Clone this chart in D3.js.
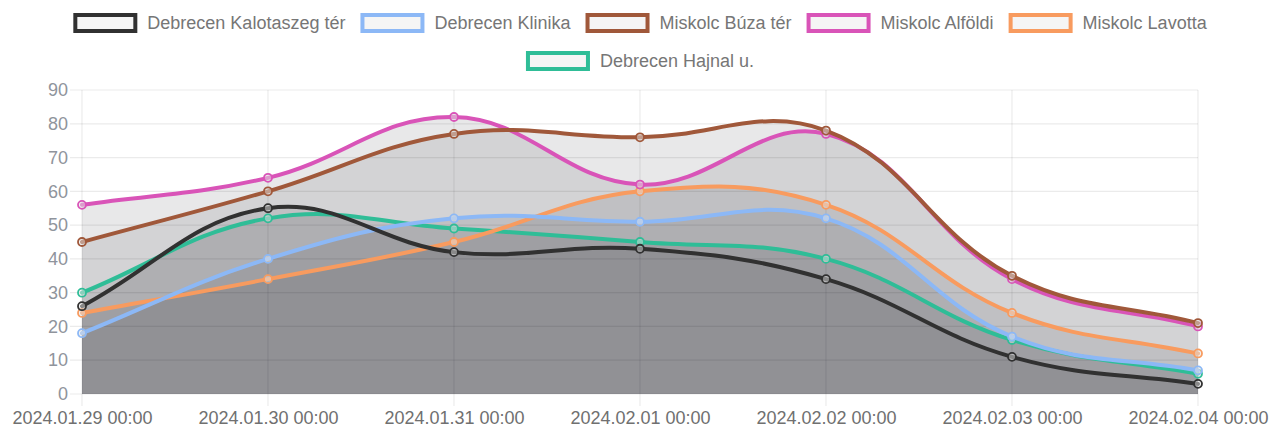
<!DOCTYPE html>
<html>
<head>
<meta charset="utf-8">
<script src="https://cdn.jsdelivr.net/npm/d3@7"></script>
<style>
  html, body { margin: 0; padding: 0; background: #ffffff; }
  svg { display: block; }
  text { font-family: "Liberation Sans", Arial, Helvetica, sans-serif; }
</style>
</head>
<body>
<svg id="chart" width="1282" height="433"></svg>
<script>
// ---------- data ----------
const labels = ["2024.01.29 00:00", "2024.01.30 00:00", "2024.01.31 00:00", "2024.02.01 00:00",
                "2024.02.02 00:00", "2024.02.03 00:00", "2024.02.04 00:00"];
const seriesNames = ["Debrecen Kalotaszeg tér", "Debrecen Klinika", "Miskolc Búza tér",
                     "Miskolc Alföldi", "Miskolc Lavotta", "Debrecen Hajnal u."];
const kalotaszeg = [26, 55, 42, 43, 34, 11, 3];
const klinika    = [18, 40, 52, 51, 52, 17, 7];
const buza       = [45, 60, 77, 76, 78, 35, 21];
const alfoldi    = [56, 64, 82, 62, 77, 34, 20];
const lavotta    = [24, 34, 45, 60, 56, 24, 12];
const hajnal     = [30, 52, 49, 45, 40, 16, 6];
const yTicks = [0, 10, 20, 30, 40, 50, 60, 70, 80, 90];

const seriesValues = [kalotaszeg, klinika, buza, alfoldi, lavotta, hajnal];
const seriesColors = ["#313131", "#8cb8f6", "#a0583a", "#d954b8", "#f89b5f", "#2fbd97"];

// ---------- layout ----------
const W = 1282, H = 433;
const plot = { left: 82, right: 1198, top: 90, bottom: 394 };
const svg = d3.select("#chart");

const x = d3.scalePoint().domain(labels).range([plot.left, plot.right]);
const y = d3.scaleLinear().domain([0, 90]).range([plot.bottom, plot.top]);

const gridColor = "rgba(0,0,0,0.08)";
const fillColor = "rgba(10,14,24,0.095)";

// ---------- grid ----------
const grid = svg.append("g");
grid.selectAll("line.h").data(yTicks).enter().append("line")
  .attr("x1", plot.left - 12).attr("x2", plot.right)
  .attr("y1", d => y(d)).attr("y2", d => y(d))
  .attr("stroke", gridColor).attr("stroke-width", 1.2);
grid.selectAll("line.v").data(labels).enter().append("line")
  .attr("x1", d => x(d)).attr("x2", d => x(d))
  .attr("y1", plot.top).attr("y2", plot.bottom + 12)
  .attr("stroke", gridColor).attr("stroke-width", 1.2);

// ---------- axes (labels via d3 axes) ----------
const yAxis = d3.axisLeft(y).tickValues(yTicks).tickSize(0).tickPadding(14);
const gy = svg.append("g").attr("transform", `translate(${plot.left},0)`).call(yAxis);
gy.select(".domain").remove();
gy.selectAll("text").attr("font-size", 18).attr("fill", "#8f949c")
  .attr("font-family", "'Liberation Sans', Arial, sans-serif");

const xAxis = d3.axisBottom(x).tickSize(0).tickPadding(0);
const gx = svg.append("g").attr("transform", `translate(0,${plot.bottom})`).call(xAxis);
gx.select(".domain").remove();
gx.selectAll("text").attr("font-size", 18).attr("fill", "#707070")
  .attr("dy", null).attr("y", 30)
  .attr("font-family", "'Liberation Sans', Arial, sans-serif");

// ---------- Chart.js style spline (tension 0.4) ----------
function splinePoints(pts, t) {
  const n = pts.length;
  const res = [];
  for (let i = 0; i < n; i++) {
    const p1 = pts[i];
    const p0 = i > 0 ? pts[i - 1] : p1;
    const p2 = i < n - 1 ? pts[i + 1] : p1;
    const d01 = Math.hypot(p1[0] - p0[0], p1[1] - p0[1]);
    const d12 = Math.hypot(p2[0] - p1[0], p2[1] - p1[1]);
    let s01 = d01 / (d01 + d12), s12 = d12 / (d01 + d12);
    if (isNaN(s01)) s01 = 0; if (isNaN(s12)) s12 = 0;
    const fa = t * s01, fb = t * s12;
    const clampX = v => Math.max(plot.left, Math.min(plot.right, v));
    const clampY = v => Math.max(plot.top, Math.min(plot.bottom, v));
    res.push({
      p: p1,
      cpPrev: [clampX(p1[0] - fa * (p2[0] - p0[0])), clampY(p1[1] - fa * (p2[1] - p0[1]))],
      cpNext: [clampX(p1[0] + fb * (p2[0] - p0[0])), clampY(p1[1] + fb * (p2[1] - p0[1]))]
    });
  }
  return res;
}
function linePath(vals) {
  const pts = vals.map((v, i) => [x(labels[i]), y(v)]);
  const sp = splinePoints(pts, 0.4);
  const path = d3.path();
  path.moveTo(sp[0].p[0], sp[0].p[1]);
  for (let i = 1; i < sp.length; i++) {
    path.bezierCurveTo(sp[i - 1].cpNext[0], sp[i - 1].cpNext[1], sp[i].cpPrev[0], sp[i].cpPrev[1], sp[i].p[0], sp[i].p[1]);
  }
  return path;
}
function areaPath(vals) {
  const p = linePath(vals);
  p.lineTo(x(labels[labels.length - 1]), y(0));
  p.lineTo(x(labels[0]), y(0));
  p.closePath();
  return p.toString();
}

// fills first (all datasets), then lines and points, first dataset on top
const fills = svg.append("g");
const lines = svg.append("g");
for (let s = seriesValues.length - 1; s >= 0; s--) {
  const vals = seriesValues[s];
  fills.append("path").attr("d", areaPath(vals)).attr("fill", fillColor).attr("stroke", "none");
  const g = lines.append("g");
  g.append("path").attr("d", linePath(vals).toString()).attr("fill", "none")
    .attr("stroke", seriesColors[s]).attr("stroke-width", 4)
    .attr("stroke-linejoin", "round").attr("stroke-linecap", "round");
  g.selectAll("circle").data(vals).enter().append("circle")
    .attr("cx", (d, i) => x(labels[i])).attr("cy", d => y(d)).attr("r", 4)
    .attr("fill", "rgba(225,225,225,0.5)").attr("stroke", seriesColors[s]).attr("stroke-width", 1.8);
}

// ---------- legend ----------
const legend = svg.append("g");
const rows = [[0, 1, 2, 3, 4], [5]];
const rowCY = [23, 61];
const boxW = 60, boxH = 16, gapText = 12, itemGap = 17;
rows.forEach((row, ri) => {
  const items = row.map(i => {
    const t = legend.append("text").attr("font-size", 18).attr("fill", "#767676").text(seriesNames[i]);
    const w = t.node().getComputedTextLength();
    return { i, t, w };
  });
  const total = d3.sum(items, d => boxW + gapText + d.w) + itemGap * (items.length - 1);
  let cx = (W - total) / 2;
  items.forEach(d => {
    legend.append("rect").attr("x", cx).attr("y", rowCY[ri] - boxH / 2)
      .attr("width", boxW).attr("height", boxH)
      .attr("fill", "rgba(0,0,0,0.04)").attr("stroke", seriesColors[d.i]).attr("stroke-width", 4);
    d.t.attr("x", cx + boxW + gapText).attr("y", rowCY[ri]).attr("dy", "0.35em");
    cx += boxW + gapText + d.w + itemGap;
  });
});
</script>
</body>
</html>
